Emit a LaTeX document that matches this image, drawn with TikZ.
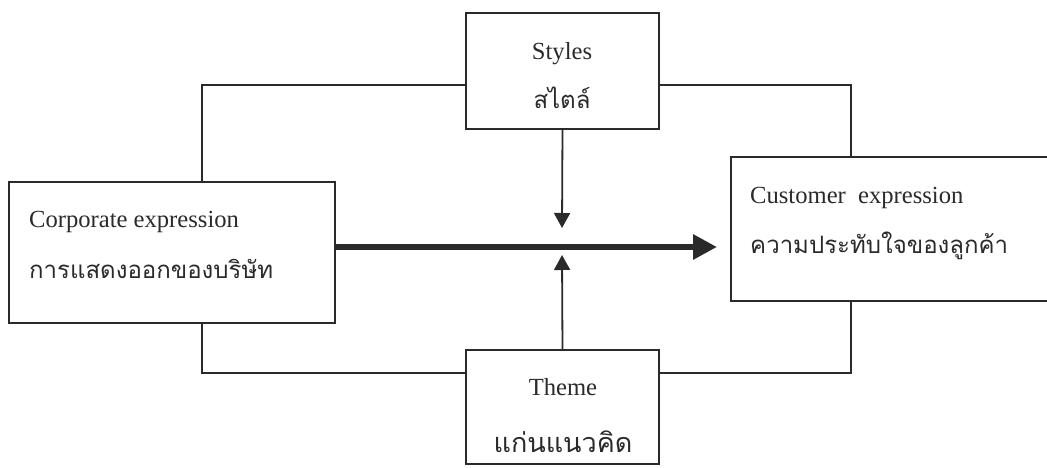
\documentclass[tikz,border=0pt]{standalone}
\usepackage{fontspec}
\setmainfont{Liberation Serif}
\newfontfamily\thaifont[Script=Thai]{Loma}
\usetikzlibrary{arrows.meta}
\definecolor{ink}{HTML}{2A2A2A}
\begin{document}
\begin{tikzpicture}[x=1pt,y=-1pt,
  box/.style={draw=ink,line width=1.8pt,inner sep=0pt,outer sep=0pt,
    rectangle,minimum width=#1},
  frame/.style={draw=ink,line width=1.8pt},
  thin arrow/.style={draw=ink,line width=1.8pt,
    -{Triangle[length=15pt,width=16pt]}},
  main arrow/.style={draw=ink,line width=6pt,
    -{Triangle[length=24pt,width=24pt]}},
  en/.style={inner sep=0pt,font=\fontsize{24.6}{28}\selectfont,text=ink},
  th/.style={inner sep=0pt,font=\thaifont\fontsize{24}{28}\selectfont,text=ink},
  thbig/.style={inner sep=0pt,font=\thaifont\fontsize{27}{31}\selectfont,text=ink}]
  \clip (0,0) rectangle (1047,467);

  % boxes
  \node[box=193pt,minimum height=116pt] (styles) at (562.5,71) {};
  \node[box=326pt,minimum height=141pt] (corp) at (172,252.5) {};
  \node[box=329pt,minimum height=144pt] (cust) at (895.5,229) {};
  \node[box=193pt,minimum height=114pt] (theme) at (562.5,407) {};

  % box texts
  \node[en,anchor=base] (stylesEn) at (562,59) {Styles};
  \node[th,anchor=base] (stylesTh) at (562,108) {สไตล์};
  \node[en,anchor=base west] (corpEn) at (29,227) {Corporate expression};
  \node[th,anchor=base west] (corpTh) at (29,278) {การแสดงออกของบริษัท};
  \node[en,anchor=base west] (custEn) at (750,203) {Customer~ expression};
  \node[th,anchor=base west] (custTh) at (750,253) {ความประทับใจของลูกค้า};
  \node[en,anchor=base] (themeEn) at (563,395) {Theme};
  \node[thbig,anchor=base] (themeTh) at (563,452) {แก่นแนวคิด};

  % outer frame corners
  \coordinate (tl) at (202,85);
  \coordinate (tr) at (851,85);
  \coordinate (bl) at (202,373);
  \coordinate (br) at (851,373);
  \coordinate (mid) at (562,247);

  \draw[frame] (styles.west |- tl) -- (tl) -- (tl |- corp.north);
  \draw[frame] (styles.east |- tr) -- (tr) -- (tr |- cust.north);
  \draw[frame] (tl |- corp.south) -- (bl) -- (theme.west |- bl);
  \draw[frame] (theme.east |- br) -- (br) -- (br |- cust.south);

  % arrows
  \draw[main arrow] (corp.east |- mid) -- ([xshift=-14pt]cust.west |- mid);
  \draw[thin arrow] (styles.south) -- ([yshift=19pt]mid);
  \draw[thin arrow] (theme.north) -- ([yshift=-8pt]mid);
\end{tikzpicture}
\end{document}
